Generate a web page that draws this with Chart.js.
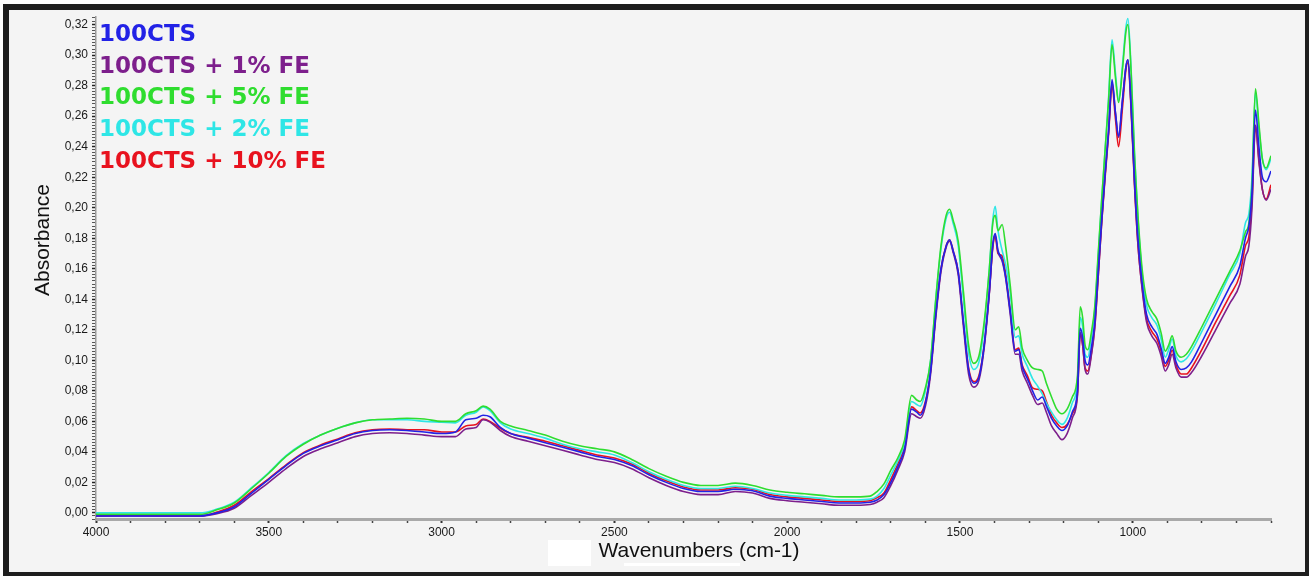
<!DOCTYPE html>
<html>
<head>
<meta charset="utf-8">
<script src="https://cdn.jsdelivr.net/npm/chart.js@4.4.1/dist/chart.umd.min.js"></script>
<style>
    html, body { margin: 0; padding: 0; background: #fff; }
    canvas { display: block; }
</style>
</head>
<body>
<canvas id="lineChart" width="1309" height="576"></canvas>
<script>
// Số sóng (cm-1) dùng chung cho cả 5 phổ
var wavenumbers = [
    4000, 3900, 3800, 3700, 3650, 3600, 3550, 3500, 3450, 3400,
    3350, 3300, 3250, 3200, 3150, 3100, 3050, 3000, 2960, 2930,
    2900, 2880, 2860, 2830, 2800, 2750, 2700, 2650, 2600, 2550,
    2500, 2450, 2400, 2350, 2300, 2250, 2200, 2150, 2100, 2050,
    2000, 1950, 1900, 1850, 1800, 1760, 1740, 1720, 1700, 1680,
    1660, 1640, 1625, 1615, 1600, 1585, 1570, 1555, 1540, 1530,
    1520, 1505, 1490, 1475, 1460, 1445, 1430, 1415, 1405, 1398,
    1390, 1378, 1368, 1355, 1340, 1330, 1320, 1305, 1290, 1275,
    1262, 1250, 1235, 1220, 1205, 1190, 1175, 1160, 1152, 1145,
    1138, 1130, 1120, 1110, 1100, 1090, 1080, 1070, 1060, 1050,
    1041, 1030, 1020, 1014, 1005, 995, 985, 973, 960, 945,
    930, 918, 906, 896, 886, 875, 860, 845, 830, 800,
    760, 720, 690, 674, 664, 655, 645, 635, 625, 614,
    600
];

// 100CTS
var cts = [
    -0.002, -0.002, -0.002, -0.002, 0.000, 0.004, 0.013, 0.022, 0.031, 0.039,
    0.044, 0.048, 0.052, 0.054, 0.0545, 0.054, 0.053, 0.052, 0.053, 0.061,
    0.062, 0.064, 0.063, 0.056, 0.052, 0.049, 0.046, 0.043, 0.040, 0.037,
    0.035, 0.031, 0.025, 0.020, 0.016, 0.014, 0.014, 0.0155, 0.0145, 0.011,
    0.0095, 0.0085, 0.0075, 0.0065, 0.0065, 0.007, 0.0085, 0.012, 0.020, 0.030,
    0.042, 0.068, 0.066, 0.064, 0.072, 0.093, 0.130, 0.160, 0.175, 0.179,
    0.172, 0.158, 0.125, 0.094, 0.085, 0.089, 0.110, 0.145, 0.176, 0.183,
    0.172, 0.166, 0.155, 0.133, 0.106, 0.107, 0.096, 0.088, 0.080, 0.074,
    0.076, 0.070, 0.062, 0.057, 0.054, 0.057, 0.066, 0.080, 0.121, 0.115,
    0.100, 0.097, 0.108, 0.125, 0.158, 0.192, 0.222, 0.250, 0.284, 0.262,
    0.247, 0.270, 0.292, 0.297, 0.268, 0.218, 0.180, 0.151, 0.130, 0.122,
    0.117, 0.108, 0.098, 0.102, 0.109, 0.099, 0.094, 0.095, 0.099, 0.112,
    0.130, 0.148, 0.162, 0.180, 0.188, 0.210, 0.264, 0.240, 0.220, 0.217,
    0.224
];

// 100CTS + 1% FE
var fe1 = [
    -0.002, -0.002, -0.002, -0.002, -0.0005, 0.003, 0.0115, 0.020, 0.029, 0.037,
    0.042, 0.046, 0.050, 0.052, 0.0525, 0.052, 0.051, 0.050, 0.050, 0.055,
    0.056, 0.061, 0.0595, 0.054, 0.050, 0.047, 0.044, 0.041, 0.038, 0.035,
    0.033, 0.029, 0.023, 0.018, 0.014, 0.012, 0.012, 0.014, 0.013, 0.0095,
    0.008, 0.007, 0.006, 0.005, 0.005, 0.0055, 0.007, 0.010, 0.018, 0.028,
    0.040, 0.065, 0.063, 0.062, 0.070, 0.091, 0.128, 0.158, 0.174, 0.178,
    0.171, 0.156, 0.122, 0.091, 0.0824, 0.087, 0.108, 0.144, 0.175, 0.182,
    0.171, 0.165, 0.154, 0.131, 0.104, 0.104, 0.093, 0.085, 0.077, 0.071,
    0.072, 0.066, 0.057, 0.052, 0.048, 0.052, 0.062, 0.077, 0.118, 0.110,
    0.094, 0.091, 0.103, 0.121, 0.155, 0.190, 0.222, 0.250, 0.282, 0.262,
    0.246, 0.270, 0.292, 0.297, 0.267, 0.216, 0.176, 0.147, 0.125, 0.116,
    0.111, 0.103, 0.093, 0.097, 0.104, 0.095, 0.089, 0.089, 0.092, 0.103,
    0.120, 0.137, 0.150, 0.168, 0.175, 0.200, 0.254, 0.230, 0.212, 0.205,
    0.212
];

// 100CTS + 5% FE
var fe5 = [
    -0.001, -0.001, -0.001, -0.001, 0.002, 0.0065, 0.016, 0.026, 0.037, 0.045,
    0.051, 0.0555, 0.059, 0.061, 0.0615, 0.062, 0.0615, 0.060, 0.060, 0.065,
    0.067, 0.070, 0.068, 0.060, 0.057, 0.054, 0.051, 0.047, 0.044, 0.042,
    0.040, 0.035, 0.029, 0.024, 0.020, 0.018, 0.018, 0.0195, 0.018, 0.015,
    0.0135, 0.0125, 0.0115, 0.0105, 0.0105, 0.011, 0.014, 0.019, 0.028, 0.036,
    0.048, 0.077, 0.074, 0.073, 0.082, 0.100, 0.140, 0.175, 0.195, 0.199,
    0.192, 0.178, 0.145, 0.110, 0.098, 0.103, 0.125, 0.160, 0.190, 0.195,
    0.185, 0.189, 0.175, 0.150, 0.120, 0.122, 0.108, 0.100, 0.095, 0.094,
    0.093, 0.085, 0.076, 0.068, 0.065, 0.068, 0.076, 0.090, 0.135, 0.128,
    0.110, 0.107, 0.118, 0.135, 0.170, 0.205, 0.238, 0.270, 0.307, 0.285,
    0.269, 0.290, 0.315, 0.320, 0.290, 0.235, 0.195, 0.160, 0.140, 0.132,
    0.127, 0.118, 0.106, 0.110, 0.116, 0.106, 0.102, 0.104, 0.109, 0.122,
    0.140, 0.158, 0.172, 0.184, 0.190, 0.215, 0.278, 0.255, 0.232, 0.226,
    0.234
];

// 100CTS + 2% FE
var fe2 = [
    0.000, 0.000, 0.000, 0.000, 0.0025, 0.007, 0.0165, 0.0265, 0.0375, 0.0455,
    0.051, 0.0555, 0.059, 0.061, 0.061, 0.061, 0.060, 0.0595, 0.059, 0.064,
    0.066, 0.0695, 0.067, 0.059, 0.055, 0.052, 0.049, 0.045, 0.042, 0.040,
    0.038, 0.033, 0.027, 0.022, 0.018, 0.016, 0.016, 0.0175, 0.016, 0.013,
    0.0115, 0.0105, 0.0095, 0.0085, 0.0085, 0.009, 0.011, 0.016, 0.025, 0.034,
    0.046, 0.073, 0.071, 0.070, 0.080, 0.100, 0.140, 0.173, 0.193, 0.197,
    0.190, 0.175, 0.140, 0.105, 0.094, 0.099, 0.122, 0.160, 0.192, 0.201,
    0.185, 0.172, 0.163, 0.145, 0.115, 0.116, 0.104, 0.096, 0.088, 0.083,
    0.078, 0.072, 0.066, 0.061, 0.058, 0.062, 0.072, 0.086, 0.128, 0.122,
    0.104, 0.102, 0.115, 0.133, 0.168, 0.205, 0.238, 0.272, 0.310, 0.288,
    0.270, 0.293, 0.318, 0.324, 0.292, 0.236, 0.193, 0.157, 0.136, 0.128,
    0.123, 0.114, 0.102, 0.107, 0.114, 0.103, 0.099, 0.101, 0.106, 0.119,
    0.137, 0.156, 0.170, 0.190, 0.196, 0.220, 0.276, 0.252, 0.232, 0.225,
    0.232
];

// 100CTS + 10% FE
var fe10 = [
    -0.002, -0.0015, -0.002, -0.002, 0.0005, 0.005, 0.014, 0.0225, 0.0315, 0.0395,
    0.0445, 0.0485, 0.0525, 0.0545, 0.055, 0.0545, 0.0545, 0.053, 0.053, 0.057,
    0.058, 0.0615, 0.060, 0.0555, 0.052, 0.0495, 0.047, 0.044, 0.041, 0.038,
    0.036, 0.032, 0.026, 0.021, 0.017, 0.015, 0.015, 0.0165, 0.0155, 0.012,
    0.0105, 0.0095, 0.0085, 0.0075, 0.0075, 0.008, 0.010, 0.013, 0.022, 0.032,
    0.044, 0.0695, 0.067, 0.0655, 0.073, 0.093, 0.130, 0.160, 0.175, 0.179,
    0.172, 0.158, 0.125, 0.095, 0.086, 0.090, 0.110, 0.145, 0.174, 0.181,
    0.170, 0.1685, 0.157, 0.134, 0.107, 0.108, 0.097, 0.090, 0.082, 0.081,
    0.080, 0.073, 0.064, 0.059, 0.056, 0.058, 0.065, 0.078, 0.118, 0.110,
    0.095, 0.093, 0.104, 0.122, 0.155, 0.190, 0.220, 0.248, 0.2796, 0.258,
    0.240, 0.265, 0.290, 0.295, 0.265, 0.215, 0.176, 0.148, 0.127, 0.119,
    0.114, 0.106, 0.096, 0.100, 0.1066, 0.097, 0.091, 0.091, 0.095, 0.107,
    0.125, 0.142, 0.156, 0.175, 0.181, 0.205, 0.254, 0.232, 0.212, 0.2057,
    0.215
];

var seriesLabels = ['100CTS', '100CTS + 1% FE', '100CTS + 5% FE', '100CTS + 2% FE', '100CTS + 10% FE'];
var seriesColors = ['#2222e6', '#7d1f8c', '#2fdd2f', '#2ee6e6', '#e8121e'];
var seriesData = [cts, fe1, fe5, fe2, fe10];

// nhãn trục
var xTickValues = [4000, 3500, 3000, 2500, 2000, 1500, 1000];
var yTickValues = [0, 0.02, 0.04, 0.06, 0.08, 0.10, 0.12, 0.14, 0.16, 0.18, 0.20, 0.22, 0.24, 0.26, 0.28, 0.30, 0.32];

function isXMajor(v) {
    return xTickValues.indexOf(v) >= 0;
}
function isYMajor(v) {
    for (var i = 0; i < yTickValues.length; i++) {
        if (Math.abs(v - yTickValues[i]) < 1e-9) return true;
    }
    return false;
}

// nền, khung và chữ
var framePlugin = {
    id: 'frame',
    beforeDraw: function (chart) {
        var c = chart.ctx;
        c.save();
        c.fillStyle = '#ffffff';
        c.fillRect(0, 0, chart.width, chart.height);
        c.fillStyle = '#1e1e1e';
        c.fillRect(3, 4, chart.width - 3, chart.height - 4);
        c.fillStyle = '#f4f4f4';
        c.fillRect(9, 10, chart.width - 13, chart.height - 14);
        c.restore();
    },
    afterDraw: function (chart) {
        var c = chart.ctx;
        c.save();
        // ô trắng cạnh tiêu đề trục x
        c.fillStyle = '#ffffff';
        c.fillRect(548, 540, 43, 26);
        c.fillRect(624, 563, 116, 3);

        c.fillStyle = '#111111';
        c.font = '21px "Liberation Sans", Arial, sans-serif';
        c.textAlign = 'center';
        c.textBaseline = 'middle';
        c.fillText('Wavenumbers (cm-1)', 699, 551);
        c.translate(43, 240);
        c.rotate(-Math.PI / 2);
        c.fillText('Absorbance', 0, 0);
        c.restore();

        // chú thích
        c.save();
        c.font = 'bold 23px "DejaVu Sans", sans-serif';
        c.textAlign = 'left';
        c.textBaseline = 'middle';
        chart.data.datasets.forEach(function (ds, i) {
            c.fillStyle = ds.borderColor;
            c.fillText(ds.label, 99, 35 + i * 31.7);
        });
        c.restore();
    }
};

var datasets = seriesData.map(function (arr, i) {
    return {
        label: seriesLabels[i],
        data: wavenumbers.map(function (w, j) { return { x: w, y: arr[j] }; }),
        borderColor: seriesColors[i],
        borderWidth: 1.6,
        pointRadius: 0,
        fill: false,
        cubicInterpolationMode: 'monotone'
    };
});

var ctx = document.getElementById('lineChart').getContext('2d');
var chart = new Chart(ctx, {
    type: 'line',
    data: { datasets: datasets },
    plugins: [framePlugin],
    options: {
        responsive: false,
        animation: false,
        devicePixelRatio: 1,
        layout: { padding: { left: 0, top: 17, right: 38, bottom: 27 } },
        plugins: { legend: { display: false }, tooltip: { enabled: false } },
        scales: {
            x: {
                type: 'linear',
                reverse: true,
                min: 600,
                max: 4000,
                afterFit: function (scale) { scale.height = 30; },
                border: { display: true, color: '#a9a9a9', width: 3 },
                grid: {
                    drawOnChartArea: false,
                    drawTicks: true,
                    tickLength: 4,
                    tickColor: function (c) { return isXMajor(c.tick.value) ? '#333' : '#444'; },
                    tickWidth: function (c) { return isXMajor(c.tick.value) ? 2 : 1.5; }
                },
                ticks: {
                    stepSize: 100,
                    autoSkip: false,
                    maxRotation: 0,
                    padding: 2,
                    color: '#1a1a1a',
                    font: { family: '"Liberation Sans", Arial, sans-serif', size: 12 },
                    callback: function (value) { return isXMajor(value) ? String(value) : ''; }
                }
            },
            y: {
                type: 'linear',
                min: -0.004,
                max: 0.325,
                afterFit: function (scale) { scale.width = 96; },
                border: { display: true, color: '#9a9a9a', width: 1.5 },
                grid: {
                    drawOnChartArea: false,
                    drawTicks: true,
                    tickLength: 4,
                    tickColor: function (c) { return isYMajor(c.tick.value) ? '#222' : '#555'; },
                    tickWidth: function (c) { return isYMajor(c.tick.value) ? 1.5 : 1; }
                },
                ticks: {
                    stepSize: 0.002,
                    autoSkip: false,
                    padding: 4,
                    color: '#1a1a1a',
                    font: { family: '"Liberation Sans", Arial, sans-serif', size: 12 },
                    callback: function (value) {
                        if (!isYMajor(value)) return '';
                        return value.toFixed(2).replace('.', ',');
                    }
                }
            }
        }
    }
});
</script>
</body>
</html>
